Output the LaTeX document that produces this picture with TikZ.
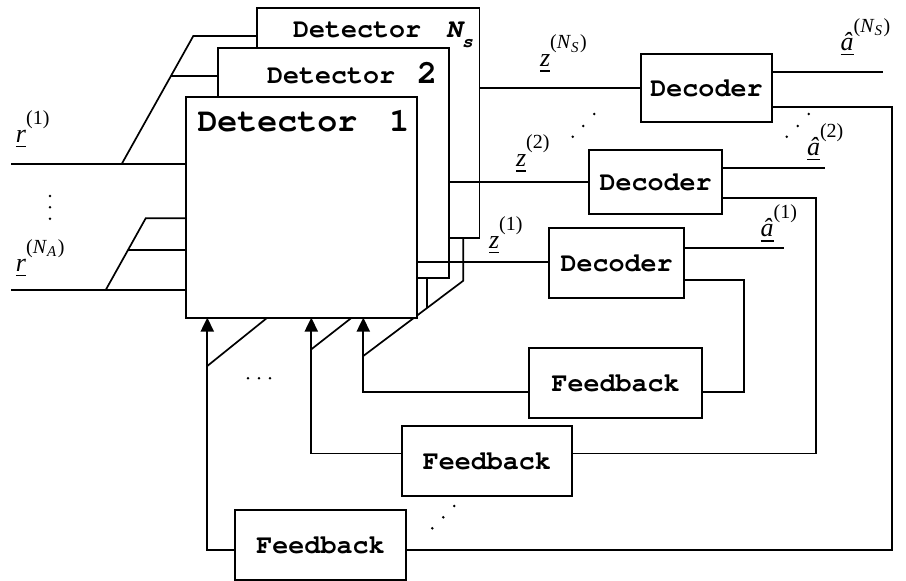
\documentclass[tikz,border=0pt]{standalone}
\usepackage[T1]{fontenc}
\usepackage{fontspec}
\setmainfont{Liberation Serif}
\newcommand{\cmono}{\fontencoding{T1}\fontfamily{pcr}\fontseries{b}\selectfont}
\usetikzlibrary{arrows.meta,calc}

\newcommand{\ulin}[1]{\setbox0\hbox{#1}\rlap{\rule[-5pt]{\wd0}{1.3pt}}\box0}
\newcommand{\lab}[2]{{\fontsize{26}{26}\selectfont\ulin{\textit{#1}}}\raisebox{18pt}{\fontsize{20}{20}\selectfont #2}}
\newcommand{\supNS}{(\textit{N}\raisebox{-3.5pt}{\fontsize{15}{15}\selectfont\textit{S}}\kern1.5pt)}
\newcommand{\supNA}{(\textit{N}\raisebox{-3.5pt}{\fontsize{15}{15}\selectfont\textit{A}}\kern1.5pt)}

\tikzset{
  ln/.style={line width=1.7pt},
  blk/.style={draw, fill=white, line width=1.7pt, inner sep=0pt, outer sep=0pt},
  txtbox/.style={blk, font=\fontsize{26.7}{26.7}\cmono},
  arr/.style={ln, -{Triangle[width=13.3pt,length=14pt]}},
  dot/.style={fill=black, draw=none, circle, inner sep=0pt, minimum size=2.8pt},
  lbl/.style={anchor=base west, inner sep=0pt, outer sep=0pt}
}

\begin{document}
\begin{tikzpicture}[x=1pt,y=-1pt]
\useasboundingbox (0,0) rectangle (906,581);

% detectors (back to front)
\node[blk, minimum width=222.5, minimum height=230] (detNs) at (368.25,123) {};
\node[lbl, font=\fontsize{26.7}{26.7}\cmono] (tNs) at (293,37.3)
  {Detector\hspace{25pt}{\fontshape{sl}\selectfont N}\raisebox{-10.4pt}{\fontsize{18}{18}\fontshape{sl}\selectfont s}};
\node[blk, minimum width=231.6, minimum height=229.4] (det2) at (333.5,163) {};
\node[lbl, font=\fontsize{26.7}{26.7}\cmono] (t2) at (267,83.3)
  {Detector\hspace{22pt}{\fontsize{33.3}{33.3}\selectfont 2}};

% inputs
\coordinate (ia) at (121.7,164);
\coordinate (ib) at (193.3,36);
\coordinate (ic) at ($(ia)!0.6875!(ib)$);
\draw[ln] (ia) -- (ib) -- (detNs.west |- ib);
\draw[ln] (ic) -- (det2.west |- ic);
\coordinate (na) at (105.7,290);
\coordinate (nb) at (145.7,218.3);
\coordinate (nc) at ($(na)!0.558!(nb)$);

% feedback bus diagonals (partly hidden behind detector 1)
\coordinate (f1a) at (363.3,356);
\coordinate (f1b) at (463.3,280.7);
\coordinate (f1c) at ($(f1a)!0.64!(f1b)$);
\draw[ln] (f1a) -- (f1b) -- (f1b |- detNs.south);
\draw[ln] (f1c) -- (f1c |- det2.south);
\coordinate (f2a) at (311.3,349.3);
\coordinate (f2b) at (351.7,317.7);
\draw[ln] (f2a) -- (f2b);
\coordinate (f3a) at (207.3,366);
\coordinate (f3b) at (267.3,317.7);
\draw[ln] (f3a) -- (f3b);

\node[blk, minimum width=231.6, minimum height=221] (det1) at (301.5,207.2) {};
\node[lbl, font=\fontsize{33.3}{33.3}\cmono] (t1) at (197.5,131.7)
  {Detector\hspace{32pt}1};

\draw[ln] (11,164) -- (det1.west |- 0,164);
\draw[ln] (11,290) -- (det1.west |- 0,290);
\draw[ln] (na) -- (nb) -- (det1.west |- nb);
\draw[ln] (nc) -- (det1.west |- nc);

% decoders and feedback blocks
\node[txtbox, minimum width=131, minimum height=68] (dec3) at (706.5,88) {Decoder};
\node[txtbox, minimum width=132.7, minimum height=63.7] (dec2) at (655.65,181.85) {Decoder};
\node[txtbox, minimum width=134.7, minimum height=69.4] (dec1) at (616.65,263) {Decoder};
\node[txtbox, minimum width=172.7, minimum height=70] (fb1) at (615.65,383) {Feedback};
\node[txtbox, minimum width=170.3, minimum height=70.3] (fb2) at (486.85,461.15) {Feedback};
\node[txtbox, minimum width=171, minimum height=70] (fb3) at (320.5,545) {Feedback};

% detector outputs
\draw[ln] (detNs.east |- 0,88.3) -- (dec3.west |- 0,88.3);
\draw[ln] (det2.east |- 0,182.3) -- (dec2.west |- 0,182.3);
\draw[ln] (det1.east |- 0,262.3) -- (dec1.west |- 0,262.3);

% decoder outputs
\draw[ln] (dec3.east |- 0,71.7) -- (882.7,71.7);
\draw[ln] (dec2.east |- 0,167.7) -- (825,167.7);
\draw[ln] (dec1.east |- 0,248.3) -- (784,248.3);

% decoder -> feedback
\draw[ln] (dec1.east |- 0,280) -| (744,392.3) -- (fb1.east |- 0,392.3);
\draw[ln] (dec2.east |- 0,198.3) -| (816,453.5) -- (fb2.east |- 0,453.5);
\draw[ln] (dec3.east |- 0,106.7) -| (892,550) -- (fb3.east |- 0,550);

% feedback -> detectors
\draw[arr] (fb1.west |- 0,392.3) -| (det1.south -| 363.3,0);
\draw[arr] (fb2.west |- 0,453.5) -| (det1.south -| 311.3,0);
\draw[arr] (fb3.west |- 0,550) -| (det1.south -| 207.3,0);

% labels
\node[lbl] (r1) at (16,142) {\lab{r}{(1)}};
\node[lbl] (rNA) at (16,271) {\lab{r}{\supNA}};
\node[lbl] (zNs) at (540,66.7) {\lab{z}{\supNS}};
\node[lbl] (z2) at (516,166.7) {\lab{z}{(2)}};
\node[lbl] (z1) at (489,248) {\lab{z}{(1)}};
\node[lbl] (aNs) at (840.7,50) {\lab{\^a}{\supNS}};
\node[lbl] (a2) at (807,155) {\lab{\^a}{(2)}};
\node[lbl] (a1) at (760.7,236.7) {\lab{\^a}{(1)}};

% dots
\foreach \p [count=\i] in {(50,196),(50,207.3),(50,218.7),
  (248,378.3),(259,378.3),(270,378.3),
  (572.7,136.7),(583.3,126),(594.3,114),
  (786.7,136.7),(797.7,126),(808.7,114),
  (432.3,528.3),(443.3,517.3),(454.3,506)}
  \node[dot] (dot\i) at \p {};
\end{tikzpicture}
\end{document}
